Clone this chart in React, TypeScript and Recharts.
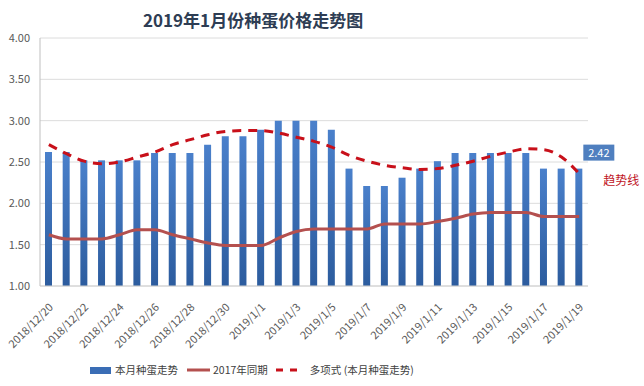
import {
  Bar,
  CartesianGrid,
  ComposedChart,
  LabelList,
  Line,
  XAxis,
  YAxis
} from "recharts"

const dates = [
  "2018/12/20", "2018/12/21", "2018/12/22", "2018/12/23", "2018/12/24",
  "2018/12/25", "2018/12/26", "2018/12/27", "2018/12/28", "2018/12/29",
  "2018/12/30", "2018/12/31", "2019/1/1", "2019/1/2", "2019/1/3",
  "2019/1/4", "2019/1/5", "2019/1/6", "2019/1/7", "2019/1/8",
  "2019/1/9", "2019/1/10", "2019/1/11", "2019/1/12", "2019/1/13",
  "2019/1/14", "2019/1/15", "2019/1/16", "2019/1/17", "2019/1/18",
  "2019/1/19"
]

// 本月种蛋走势
const thisMonth = [
  2.62, 2.62, 2.52, 2.52, 2.52, 2.52, 2.61, 2.61, 2.61, 2.71,
  2.81, 2.81, 2.89, 3.0, 3.0, 3.0, 2.89, 2.42, 2.21, 2.21,
  2.31, 2.42, 2.51, 2.61, 2.61, 2.61, 2.61, 2.61, 2.42, 2.42,
  2.42
]

// 2017年同期
const lastYear = [
  1.62, 1.57, 1.57, 1.57, 1.62, 1.68, 1.68, 1.62, 1.57, 1.52,
  1.49, 1.49, 1.49, 1.58, 1.66, 1.69, 1.69, 1.69, 1.69, 1.75,
  1.75, 1.75, 1.78, 1.82, 1.87, 1.89, 1.89, 1.89, 1.84, 1.84,
  1.84
]

// 多项式 (本月种蛋走势)
const trend = [
  2.71, 2.6, 2.51, 2.48, 2.5, 2.56, 2.62, 2.71, 2.77, 2.83,
  2.87, 2.88, 2.88, 2.85, 2.8, 2.75, 2.68, 2.58, 2.51, 2.46,
  2.43, 2.41, 2.42, 2.46, 2.51, 2.57, 2.62, 2.66, 2.65, 2.56,
  2.36
]

const yTicks = [1, 1.5, 2, 2.5, 3, 3.5, 4]

const data = dates.map((d, i) => ({
  date: d,
  price: thisMonth[i],
  ly: lastYear[i],
  trend: trend[i]
}))

const font = "'Noto Sans CJK SC', 'Noto Sans', sans-serif"

const DateTick = (props: any) => {
  const { x, y, payload } = props
  const ax = x + 5
  const ay = y + 14
  return (
    <text
      x={ax}
      y={ay}
      transform={`rotate(-45 ${ax} ${ay})`}
      textAnchor="end"
      fontSize={11}
      fill="#595959"
      fontFamily={font}
    >
      {payload.value}
    </text>
  )
}

const LastLabel = (props: any) => {
  const { x, y, width, index, value } = props
  if (index !== dates.length - 1) return null
  const bx = x + width + 1
  const by = y - 24
  return (
    <g>
      <rect x={bx} y={by} width={31} height={16} fill="#4F7FBF" />
      <text x={bx + 15.5} y={by + 12} textAnchor="middle" fontSize={11} fill="#fff" fontFamily={font}>
        {value.toFixed(2)}
      </text>
      <text x={bx + 20} y={by + 40} fontSize={12} fill="#C0141E" fontFamily={font}>
        趋势线
      </text>
    </g>
  )
}

const LegendBox = () => (
  <div
    style={{
      position: "absolute",
      top: 363,
      left: 90,
      display: "flex",
      alignItems: "center",
      fontSize: 10.5,
      lineHeight: "14px",
      color: "#404040",
      fontFamily: font
    }}
  >
    <span style={{ width: 21, height: 7, background: "#3A6DB5", marginRight: 4 }} />
    <span style={{ marginRight: 9 }}>本月种蛋走势</span>
    <svg width={23} height={8} style={{ marginRight: 3 }}>
      <line x1={0} y1={4} x2={23} y2={4} stroke="#B4504F" strokeWidth={3} />
    </svg>
    <span style={{ marginRight: 8 }}>2017年同期</span>
    <svg width={21} height={8} style={{ marginRight: 13 }}>
      <line x1={0} y1={4} x2={21} y2={4} stroke="#C8101A" strokeWidth={3} strokeDasharray="7 7" />
    </svg>
    <span>多项式 (本月种蛋走势)</span>
  </div>
)

const App = () => {
  return (
    <div style={{ position: "absolute", left: 0, top: 0, width: 644, height: 386, background: "#fff" }}>
      <div
        style={{
          position: "absolute",
          top: 7,
          left: 143,
          fontSize: 17,
          fontWeight: "bold",
          color: "#2E3D54",
          fontFamily: font,
          whiteSpace: "nowrap"
        }}
      >
        2019年1月份种蛋价格走势图
      </div>
      <ComposedChart
        width={644}
        height={386}
        data={data}
        margin={{ top: 38, right: 56, bottom: 0, left: 0 }}
      >
        <defs>
          <linearGradient id="barGrad" x1="0" y1="0" x2="0" y2="1">
            <stop offset="0%" stopColor="#4A80CB" />
            <stop offset="100%" stopColor="#2C5C9E" />
          </linearGradient>
        </defs>
        <CartesianGrid vertical={false} stroke="#DCDCDC" />
        <XAxis
          dataKey="date"
          interval={1}
          tickLine={false}
          axisLine={{ stroke: "#D0D0D0" }}
          tick={<DateTick />}
          height={100}
        />
        <YAxis
          domain={[1, 4]}
          ticks={yTicks}
          width={40}
          tickLine={false}
          axisLine={{ stroke: "#BFBFBF" }}
          tickFormatter={(v: number) => v.toFixed(2)}
          tick={{ fontSize: 11, fill: "#595959", fontFamily: font }}
          tickMargin={4}
        />
        <Bar dataKey="price" fill="url(#barGrad)" barSize={7} isAnimationActive={false}>
          <LabelList dataKey="price" content={<LastLabel />} />
        </Bar>
        <Line
          type="monotone"
          dataKey="ly"
          stroke="#B4504F"
          strokeWidth={3}
          dot={false}
          isAnimationActive={false}
        />
        <Line
          type="monotone"
          dataKey="trend"
          stroke="#C8101A"
          strokeWidth={3}
          strokeDasharray="9 7"
          dot={false}
          isAnimationActive={false}
        />
      </ComposedChart>
      <LegendBox />
    </div>
  )
}

export default App
